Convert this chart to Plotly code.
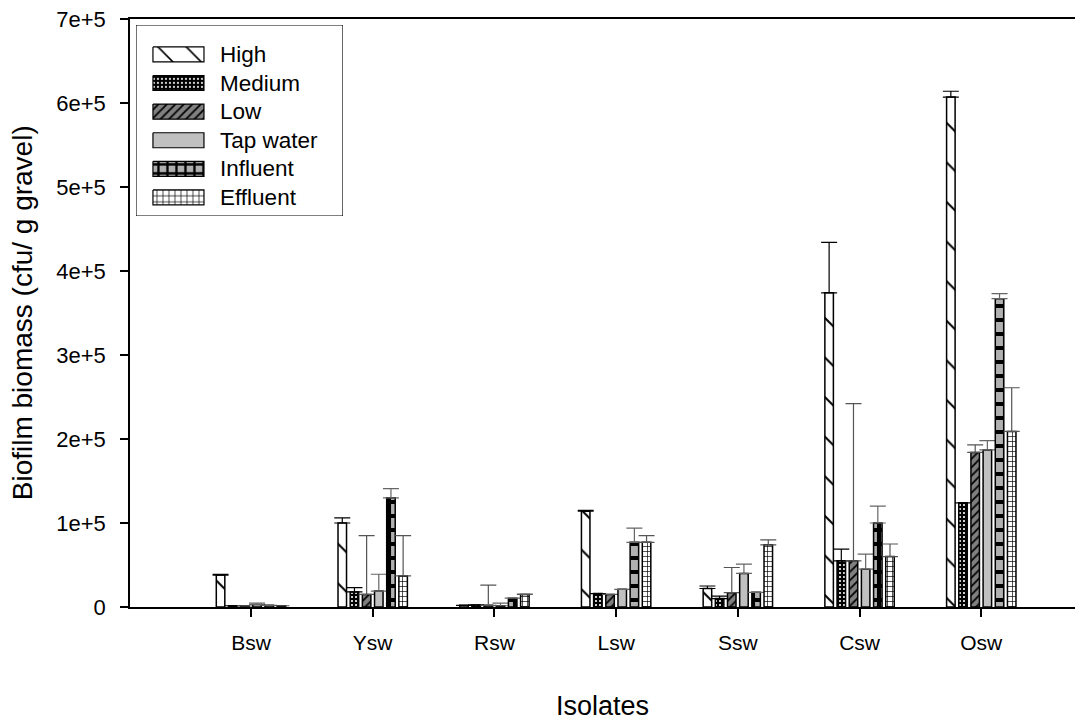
import plotly.graph_objects as go

# ---- data ----
isolates = ["Bsw", "Ysw", "Rsw", "Lsw", "Ssw", "Csw", "Osw"]
series_names = ["High", "Medium", "Low", "Tap water", "Influent", "Effluent"]

high = [38000, 100000, 2000, 114000, 22000, 374000, 607000]
high_err = [1000, 6000, 0, 1000, 3000, 60000, 7000]
medium = [1500, 18000, 2500, 16000, 10000, 55000, 124000]
medium_err = [0, 5000, 0, 0, 3000, 14000, 0]
low = [1200, 15000, 2000, 15000, 17000, 55000, 184000]
low_err = [0, 70000, 24000, 0, 30000, 187000, 9000]
tap_water = [3000, 19000, 1500, 21000, 40000, 45000, 187000]
tap_water_err = [1500, 20000, 3000, 0, 11000, 18000, 11000]
influent = [2000, 130000, 10500, 77000, 17500, 100000, 367000]
influent_err = [0, 11000, 0, 17000, 0, 20000, 6000]
effluent = [1500, 37000, 15000, 77000, 74000, 60000, 209000]
effluent_err = [0, 48000, 500, 8000, 6000, 15000, 52000]

y_tickvals = [0, 100000, 200000, 300000, 400000, 500000, 600000, 700000]
y_ticktext = ["0", "1e+5", "2e+5", "3e+5", "4e+5", "5e+5", "6e+5", "7e+5"]

values = [high, medium, low, tap_water, influent, effluent]
errors = [high_err, medium_err, low_err, tap_water_err, influent_err, effluent_err]

# fill styles (pattern shape, background, foreground, size, solidity)
styles = [
    dict(shape="\\", bg="white", fg="black", size=28, solidity=0.07, lsize=20, lsol=0.08, err="black"),
    dict(shape=".", bg="black", fg="white", size=4, solidity=0.22, lsize=4, lsol=0.22, err="black"),
    dict(shape="/", bg="#808080", fg="black", size=6, solidity=0.3, lsize=6, lsol=0.3, err="#555555"),
    dict(shape="", bg="#c0c0c0", fg="#c0c0c0", size=8, solidity=0.3, lsize=8, lsol=0.3, err="#666666"),
    dict(shape="+", bg="#b0b0b0", fg="black", size=14, solidity=0.5, lsize=9, lsol=0.45, err="#666666"),
    dict(shape="+", bg="white", fg="black", size=5, solidity=0.25, lsize=6, lsol=0.22, err="#555555"),
]

FONT = "Liberation Sans, Arial, sans-serif"

fig = go.Figure()

for name, vals, errs, st in zip(series_names, values, errors, styles):
    fig.add_trace(go.Bar(
        x=isolates, y=vals, name=name, showlegend=False,
        marker=dict(
            color=st["bg"],
            line=dict(color="black", width=1.5),
            pattern=dict(shape=st["shape"], bgcolor=st["bg"], fgcolor=st["fg"],
                         size=st["size"], solidity=st["solidity"], fillmode="replace"),
        ),
        error_y=dict(type="data", array=errs, arrayminus=[0] * len(errs),
                     symmetric=False, color=st["err"], thickness=1.2, width=8),
    ))

# ---- legend box drawn on a small overlay axis (pixel units, y downward) ----
LW, LH = 207, 191
row0, pitch, sw_h = 22, 28.6, 15
sw_x0, sw_x1, text_x = 17, 68, 82

for i, (name, st) in enumerate(zip(series_names, styles)):
    y0 = row0 + pitch * i
    y1 = y0 + sw_h
    fig.add_trace(go.Scatter(
        x=[sw_x0, sw_x1, sw_x1, sw_x0, sw_x0],
        y=[y0, y0, y1, y1, y0],
        xaxis="x2", yaxis="y2", mode="lines", fill="toself",
        fillcolor=st["bg"],
        fillpattern=dict(shape=st["shape"], bgcolor=st["bg"], fgcolor=st["fg"],
                         size=st["lsize"], solidity=st["lsol"], fillmode="replace"),
        line=dict(color="black", width=1.2),
        showlegend=False, hoverinfo="skip",
    ))
    fig.add_annotation(
        x=text_x, y=(y0 + y1) / 2, xref="x2", yref="y2", text=name,
        showarrow=False, xanchor="left", yanchor="middle",
        font=dict(family=FONT, size=22.5, color="black"),
    )

fig.add_shape(type="rect", xref="x2", yref="y2", x0=0, x1=LW, y0=0, y1=LH,
              line=dict(color="black", width=1.2), fillcolor="rgba(0,0,0,0)", layer="below")

# axis titles placed in paper coordinates
fig.add_annotation(
    text="Isolates", xref="paper", yref="paper", x=0.5, y=-0.197,
    xanchor="center", yanchor="bottom", showarrow=False,
    font=dict(family=FONT, size=27, color="black"),
)
fig.add_annotation(
    text="Biofilm biomass (cfu/ g gravel)", xref="paper", yref="paper",
    x=-0.114, y=0.5, xanchor="center", yanchor="middle", textangle=-90,
    showarrow=False, font=dict(family=FONT, size=28, color="black"),
)

fig.update_layout(
    width=1089, height=725,
    margin=dict(l=130, r=14, t=19, b=118),
    paper_bgcolor="white", plot_bgcolor="white",
    barmode="group", bargap=0.4, bargroupgap=0.3,
    font=dict(family=FONT, color="black"),
    xaxis=dict(
        type="category", range=[-0.994, 6.77], automargin=False,
        showline=True, linecolor="black", linewidth=1.5, mirror=True,
        ticks="outside", ticklen=8, tickcolor="black", tickwidth=1.5,
        tickfont=dict(family=FONT, size=21), ticklabelstandoff=8,
        showgrid=False, zeroline=False,
    ),
    yaxis=dict(
        range=[0, 700000], tickvals=y_tickvals, ticktext=y_ticktext, automargin=False,
        showline=True, linecolor="black", linewidth=1.5,
        ticks="outside", ticklen=8, tickcolor="black", tickwidth=1.5,
        tickfont=dict(family=FONT, size=22), ticklabelstandoff=10,
        showgrid=False, zeroline=False,
    ),
    xaxis2=dict(domain=[0.0063, 0.2254], range=[0, LW], anchor="y2", visible=False, fixedrange=True),
    yaxis2=dict(domain=[0.665, 0.990], range=[LH, 0], anchor="x2", visible=False, fixedrange=True),
)

fig.write_html("out.html")
